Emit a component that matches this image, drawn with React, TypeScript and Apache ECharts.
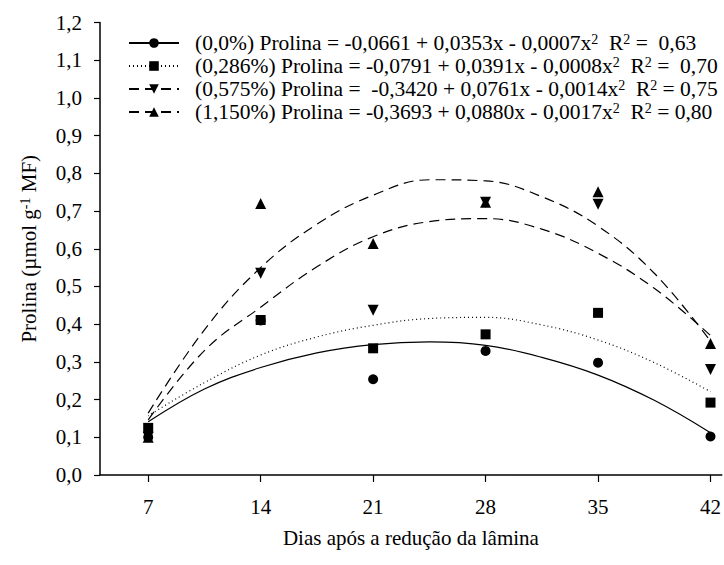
import React, { useEffect, useRef } from "react";
import * as echarts from "echarts";

const days = [7, 14, 21, 28, 35, 42];
const obs0 = [0.1, 0.41, 0.254, 0.329, 0.298, 0.102];
const obs286 = [0.125, 0.411, 0.336, 0.373, 0.43, 0.192];
const obs575 = [0.1, 0.535, 0.437, 0.723, 0.718, 0.28];
const obs1150 = [0.1, 0.72, 0.614, 0.723, 0.751, 0.349];

const fitDays = [7, 10.5, 14, 17.5, 21, 24.5, 28, 31.5, 35, 38.5, 42];
const fit0 = [0.141, 0.228, 0.285, 0.324, 0.346, 0.353, 0.344, 0.312, 0.265, 0.198, 0.112];
const fit286 = [0.157, 0.245, 0.318, 0.366, 0.397, 0.415, 0.418, 0.398, 0.358, 0.298, 0.221];
const fit575 = [0.146, 0.33, 0.445, 0.552, 0.632, 0.672, 0.68, 0.652, 0.588, 0.495, 0.37];
const fit1150 = [0.164, 0.385, 0.55, 0.665, 0.742, 0.783, 0.78, 0.738, 0.66, 0.535, 0.355];

const tickDays = [7, 14, 21, 28, 35, 42];
const seriesNames = ["(0,0%)", "(0,286%)", "(0,575%)", "(1,150%)"];
const legendTexts = [
  "(0,0%) Prolina = -0,0661 + 0,0353x - 0,0007x{sup|2}  R{sup|2} =  0,63",
  "(0,286%) Prolina = -0,0791 + 0,0391x - 0,0008x{sup|2}  R{sup|2} =  0,70",
  "(0,575%) Prolina =  -0,3420 + 0,0761x - 0,0014x{sup|2}  R{sup|2} = 0,75",
  "(1,150%) Prolina = -0,3693 + 0,0880x - 0,0017x{sup|2}  R{sup|2} = 0,80",
];

const FONT = "Liberation Serif";
const FS = 21;
const DOWN_TRI = "path://M0,0L10,0L5,9Z";

const pair = (xs: number[], ys: number[]) => xs.map((x, i) => [x, ys[i]]);

export default function App() {
  const ref = useRef<HTMLDivElement>(null);
  useEffect(() => {
    const chart = echarts.init(ref.current!, null, { renderer: "svg" });
    const fits = [fit0, fit286, fit575, fit1150];
    const obs = [obs0, obs286, obs575, obs1150];
    const symbols = ["circle", "rect", DOWN_TRI, "triangle"];
    const dashes: any[] = ["solid", [1, 3], [10, 6], [10, 6]];
    const sizes = [10, 10, 11, 11];
    const sup = { fontSize: 14, lineHeight: 12, verticalAlign: "top", fontFamily: FONT, color: "#000" };
    const lineSeries = fits.map((f, i) => ({
      type: "line",
      name: seriesNames[i],
      data: pair(fitDays, f),
      smooth: 0.4,
      showSymbol: false,
      symbol: symbols[i],
      symbolSize: sizes[i],
      itemStyle: { color: "#000" },
      lineStyle: { color: "#000", width: 1.2, type: dashes[i] },
      z: 2,
    }));
    const scatterSeries = obs.map((o, i) => ({
      type: "scatter",
      name: seriesNames[i],
      data: pair(days, o),
      symbol: symbols[i],
      symbolSize: sizes[i],
      itemStyle: { color: "#000", opacity: 1 },
      z: 3,
    }));
    chart.setOption({
      animation: false,
      backgroundColor: "#fff",
      grid: { left: 100, right: 0, top: 22.5, bottom: 90 },
      legend: {
        orient: "vertical",
        left: 128,
        top: 32,
        padding: 0,
        itemWidth: 50,
        itemHeight: 12,
        itemGap: 1,
        data: seriesNames,
        formatter: (name: string) => legendTexts[seriesNames.indexOf(name)],
        textStyle: {
          fontFamily: FONT,
          fontSize: 21.5,
          color: "#000",
          lineHeight: 22,
          padding: [0, 0, 0, 11],
          rich: { sup },
        },
      },
      xAxis: {
        type: "value",
        min: 4,
        max: 42.7,
        name: "Dias após a redução da lâmina",
        nameLocation: "middle",
        nameGap: 52,
        nameTextStyle: { fontFamily: FONT, fontSize: FS, color: "#000" },
        axisLine: { lineStyle: { color: "#000", width: 1.5 } },
        axisTick: { customValues: tickDays, length: 7, lineStyle: { color: "#000", width: 1.2 } },
        axisLabel: {
          customValues: tickDays,
          margin: 21,
          fontFamily: FONT,
          fontSize: FS,
          color: "#000",
        },
        splitLine: { show: false },
      },
      yAxis: {
        type: "value",
        min: 0,
        max: 1.2,
        interval: 0.1,
        name: "Prolina (µmol g{sup|-1} MF)",
        nameLocation: "middle",
        nameGap: 60,
        nameTextStyle: {
          fontFamily: FONT,
          fontSize: FS,
          color: "#000",
          lineHeight: 22,
          rich: { sup },
        },
        axisLine: { show: true, lineStyle: { color: "#000", width: 1.5 } },
        axisTick: { show: true, length: 6, lineStyle: { color: "#000", width: 1.2 } },
        axisLabel: {
          margin: 18,
          fontFamily: FONT,
          fontSize: FS,
          color: "#000",
          formatter: (v: number) => v.toFixed(1).replace(".", ","),
        },
        splitLine: { show: false },
      },
      series: [...lineSeries, ...scatterSeries],
    });
    return () => chart.dispose();
  }, []);
  return (
    <div
      ref={ref}
      style={{ position: "absolute", left: 0, top: 0, width: 724, height: 565, background: "#fff" }}
    />
  );
}
